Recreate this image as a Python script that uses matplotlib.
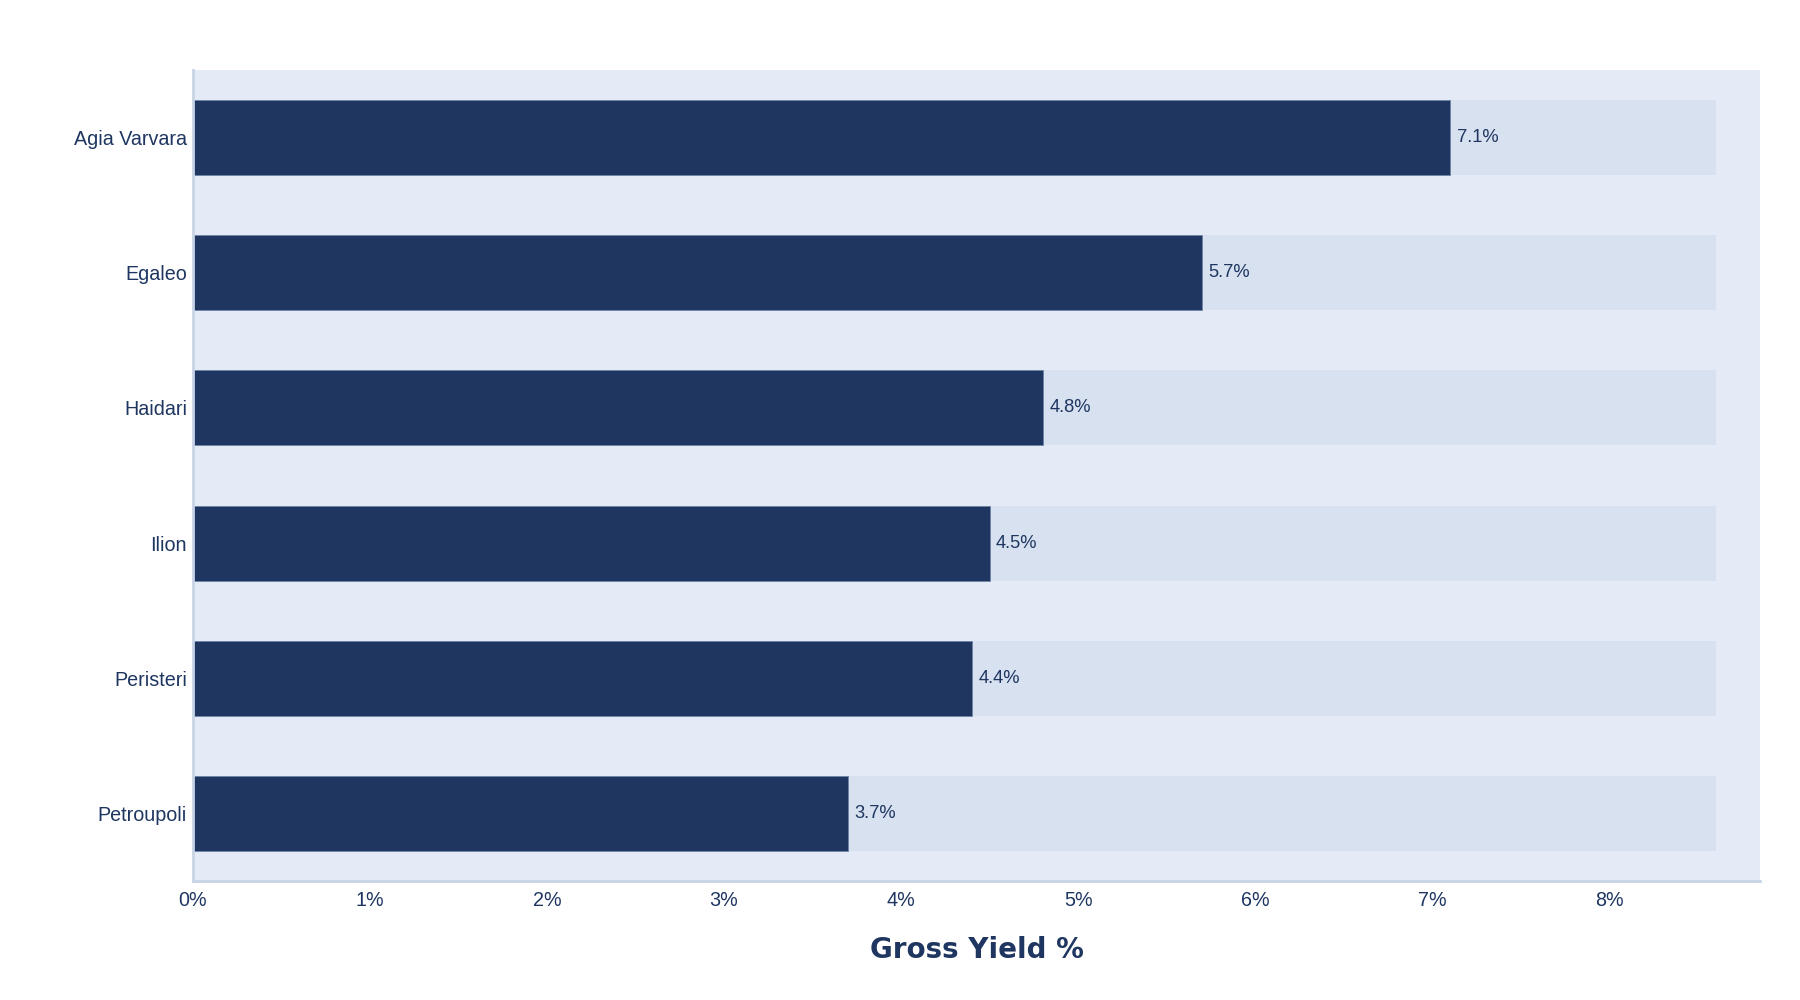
import matplotlib.pyplot as plt
import numpy as np

# data (top to bottom)
areas = ['Agia Varvara', 'Egaleo', 'Haidari', 'Ilion', 'Peristeri', 'Petroupoli']
gross_yield = [7.1, 5.7, 4.8, 4.5, 4.4, 3.7]
track_max = 8.6  # light background bars
x_ticks = [0, 1, 2, 3, 4, 5, 6, 7, 8]

navy = '#1e3660'
track = '#d8e1f0'
plot_bg = '#e4ebf7'
axis_col = '#c8d4e6'

plt.rcParams['font.family'] = ['Liberation Sans', 'DejaVu Sans']

fig = plt.figure(figsize=(18, 10), dpi=100)
ax = fig.add_axes([0.107, 0.119, 0.871, 0.811])
ax.set_facecolor(plot_bg)

y = np.arange(len(areas))
ax.barh(y, [track_max] * len(areas), height=0.555, color=track, zorder=1)
ax.barh(y, gross_yield, height=0.555, color=navy, edgecolor='#6f84a6',
        linewidth=0.6, zorder=2)

# value labels right of each bar
for yi, v in zip(y, gross_yield):
    ax.text(v + 0.035, yi, f'{v}%', va='center', ha='left', fontsize=13.2,
            color=navy, zorder=3)

ax.set_xlim(0, 8.85)
ax.set_ylim(len(areas) - 0.5, -0.5)
ax.set_yticks(y)
ax.set_yticklabels(areas)
ax.set_xticks(x_ticks)
ax.set_xticklabels([f'{t}%' for t in x_ticks])
ax.tick_params(axis='both', length=0, labelsize=14.2, colors=navy)
ax.tick_params(axis='y', pad=4)
ax.tick_params(axis='x', pad=7)

for s in ['top', 'right']:
    ax.spines[s].set_visible(False)
for s in ['left', 'bottom']:
    ax.spines[s].set_color(axis_col)
    ax.spines[s].set_linewidth(2)

ax.set_xlabel('Gross Yield %', fontsize=20, fontweight='heavy', color=navy,
              family='DejaVu Sans', labelpad=19)

fig.savefig('out.png', dpi=100, facecolor='white')
